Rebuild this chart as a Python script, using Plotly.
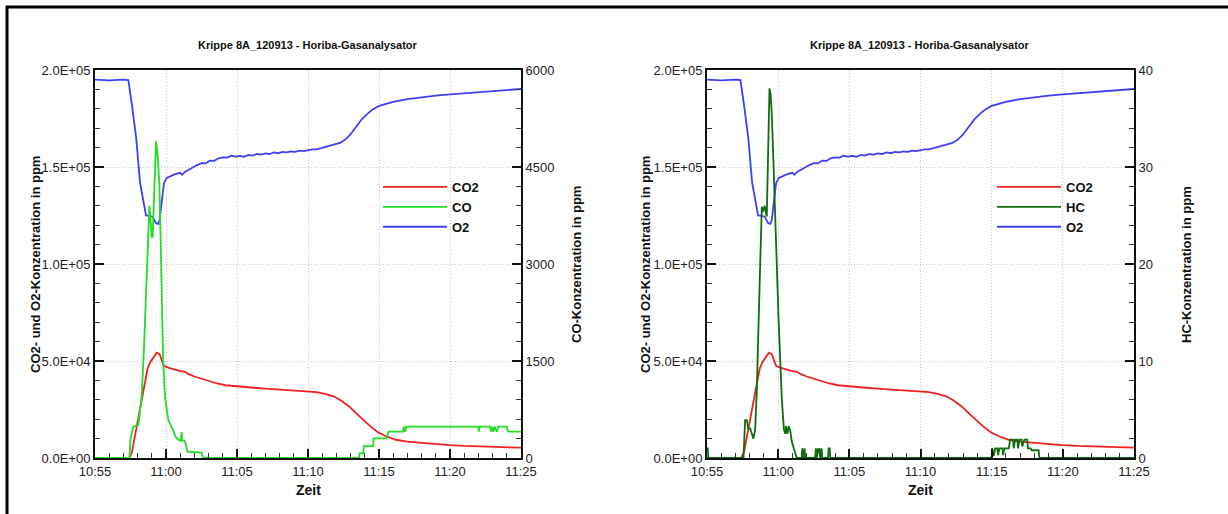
import pandas as pd
import plotly.graph_objects as go

W, H = 1228, 514
BASE = pd.Timestamp("2013-09-12 10:55:00")

# ---------------- data (minutes after 10:55, ppm) ----------------
co2_min = [0, 2.4, 2.6, 2.9, 3.25, 3.5, 3.7, 3.9, 4.1, 4.35, 4.55, 4.7, 4.85, 5.2, 5.6, 6.0, 6.3,
           6.6, 7.0, 7.4, 8.0, 8.6, 9.2, 9.8, 10.5, 11.2, 12.0, 12.8, 13.6, 14.4, 15.0, 15.6,
           16.2, 16.8, 17.3, 17.9, 18.4, 18.9, 19.4, 19.9, 20.5, 21.2, 22.0, 23.0, 24.0, 25.0,
           26.0, 27.0, 28.0, 29.0, 30.0]
co2_ppm = [0, 0, 3000, 15000, 28000, 38000, 46000, 49500, 51500, 54300, 53500, 50000, 47500,
           46500, 45600, 44800, 44500, 43200, 42000, 41000, 39500, 38400, 37500, 37000, 36600,
           36200, 35800, 35400, 35000, 34700, 34400, 34000, 33000, 31800, 29800, 26600, 23000,
           19600, 16300, 13400, 11200, 9400, 8400, 7800, 7100, 6600, 6200, 5900, 5700, 5500, 5300]

o2_min = [0, 1.0, 2.0, 2.35, 2.6, 2.9, 3.17, 3.4, 3.59, 3.8, 4.05, 4.15, 4.3, 4.45, 4.55, 4.7,
          4.86, 5.05, 5.3, 5.6, 5.99, 6.15, 6.35, 6.6, 6.92, 7.2, 7.5, 7.8, 8.1, 8.4, 8.7, 9.0,
          9.3, 9.6, 9.9, 10.2, 10.5, 10.8, 11.1, 11.4, 11.7, 12.0, 12.3, 12.6, 12.9, 13.2, 13.5,
          13.8, 14.1, 14.4, 14.7, 15.0, 15.3, 15.6, 15.9, 16.2, 16.5, 16.8, 17.25, 17.6, 17.96,
          18.38, 18.8, 19.2, 19.5, 20.0, 20.4, 21.0, 22.0, 23.0, 24.0, 25.0, 26.0, 27.0, 28.0,
          29.0, 30.0]
o2_ppm = [195000, 194700, 195000, 194800, 182000, 165000, 142000, 133000, 125000, 124800,
          124500, 123000, 121000, 120700, 122500, 132000, 141800, 144300, 145300, 146200,
          147000, 146000, 147600, 148700, 150200, 151000, 152000, 151900, 153300, 153200,
          154500, 155000, 154800, 155800, 155400, 155700, 155300, 156200, 155900, 156700,
          156400, 157000, 156700, 157500, 157100, 157800, 157500, 158000, 157800, 158400,
          158200, 158800, 159100, 159100, 159700, 160300, 161000, 161500, 162400, 164000,
          166500, 170600, 174700, 177500, 179400, 181500, 182500, 183600, 185000, 186000,
          186800, 187400, 188000, 188600, 189200, 189700, 190200]

co_min = [0, 2.42, 2.5, 2.7, 3.05, 3.15, 3.29, 3.45, 3.59, 3.72, 3.83, 3.92, 4.0, 4.06, 4.18,
          4.3, 4.42, 4.53, 4.62, 4.7, 4.8, 4.93, 5.05, 5.16, 5.35, 5.51, 5.6, 5.75, 5.99, 6.05,
          6.1, 6.15, 6.3, 6.41, 6.5, 7.39, 7.5, 7.63, 18.6, 18.62, 18.9, 18.92, 19.6, 19.62,
          20.54, 20.66, 21.71, 21.73, 21.85, 21.9, 22.0, 27.0, 27.03, 27.1, 27.82, 27.9, 27.97,
          28.05, 28.15, 28.29, 28.4, 28.64, 28.99, 29.1, 30.0]
co_ppm = [0, 0, 300, 484, 510, 700, 950, 1700, 2470, 3300, 3900, 3650, 3420, 3420, 4300, 4900,
          4650, 4250, 3400, 2470, 1500, 950, 750, 590, 500, 430, 360, 305, 270, 270, 400, 270,
          270, 200, 97, 82, 82, 0, 0, 72, 72, 185, 185, 304, 304, 407, 407, 484, 407, 484, 484,
          484, 407, 484, 484, 407, 484, 407, 484, 407, 484, 484, 484, 407, 407]

hc_min = [0, 0.05, 0.1, 2.56, 2.68, 2.8, 2.91, 3.03, 3.15, 3.26, 3.38, 3.5, 3.61, 3.75, 3.85,
          3.95, 4.05, 4.2, 4.3, 4.39, 4.47, 4.56, 4.68, 4.79, 5.02, 5.26, 5.4, 5.49, 5.55, 5.65,
          5.75, 5.85, 5.96, 6.2, 6.3, 6.65, 6.7, 6.78, 6.85, 6.9, 7.6, 7.65, 7.72, 7.8, 7.85,
          7.9, 7.95, 8.05, 8.1, 8.5, 8.55, 8.62, 8.66, 20.0, 20.03, 20.15, 20.25, 20.4, 20.45,
          20.55, 20.75, 20.8, 20.9, 21.2, 21.3, 21.5, 21.55, 21.65, 21.8, 21.85, 21.95, 22.1,
          22.15, 22.3, 22.5, 22.55, 22.75, 22.8, 23.3, 23.35, 30.0]
hc_ppm = [1.0, 1.0, 0, 0, 3.9, 3.9, 3.0, 3.06, 2.5, 2.0, 2.9, 7.0, 13.2, 20.0, 25.9, 25.4, 26.0,
          24.9, 32.0, 38.1, 37.5, 35.2, 30.0, 24.9, 14.6, 6.0, 3.0, 2.5, 3.3, 2.5, 3.3, 2.8, 1.7,
          0.5, 0, 0, 1.0, 0, 1.0, 0, 0, 1.0, 0, 1.0, 0.5, 1.0, 0, 1.0, 0, 0, 1.0, 1.0, 0, 0, 1.0,
          0.2, 1.0, 1.0, 0.3, 1.0, 1.0, 0.3, 1.0, 1.0, 1.9, 1.9, 1.0, 1.9, 1.9, 1.0, 1.9, 1.9,
          1.2, 1.9, 1.9, 1.0, 1.0, 0.8, 0.8, 0, 0]

left_tickvals = [0, 50000, 100000, 150000, 200000]
left_ticktext = ["0.0E+00", "5.0E+04", "1.0E+05", "1.5E+05", "2.0E+05"]
co_tickvals = [0, 1500, 3000, 4500, 6000]
hc_tickvals = [0, 10, 20, 30, 40]

title_text = "Krippe 8A_120913 - Horiba-Gasanalysator"
left_ytitle = "CO2- und O2-Konzentration in ppm"
co_ytitle = "CO-Konzentration in ppm"
hc_ytitle = "HC-Konzentration in ppm"
x_title = "Zeit"

C_CO2 = "#ee2020"
C_CO = "#22dd22"
C_O2 = "#4040f5"
C_HC = "#0e6e0e"


def to_time(mins):
    return [BASE + pd.Timedelta(minutes=m) for m in mins]


def px(x):
    return x / W


def py(y):
    return 1 - y / H


FONT = "Liberation Sans, Arial, sans-serif"
LW = 1.8

fig = go.Figure()
# left panel
fig.add_trace(go.Scatter(x=to_time(co2_min), y=co2_ppm, name="CO2", mode="lines",
                         line=dict(color=C_CO2, width=LW), xaxis="x", yaxis="y", legend="legend"))
fig.add_trace(go.Scatter(x=to_time(co_min), y=co_ppm, name="CO", mode="lines",
                         line=dict(color=C_CO, width=LW), xaxis="x", yaxis="y2", legend="legend"))
fig.add_trace(go.Scatter(x=to_time(o2_min), y=o2_ppm, name="O2", mode="lines",
                         line=dict(color=C_O2, width=LW), xaxis="x", yaxis="y", legend="legend"))
# right panel
fig.add_trace(go.Scatter(x=to_time(co2_min), y=co2_ppm, name="CO2", mode="lines",
                         line=dict(color=C_CO2, width=LW), xaxis="x2", yaxis="y3", legend="legend2"))
fig.add_trace(go.Scatter(x=to_time(hc_min), y=hc_ppm, name="HC", mode="lines",
                         line=dict(color=C_HC, width=LW), xaxis="x2", yaxis="y4", legend="legend2"))
fig.add_trace(go.Scatter(x=to_time(o2_min), y=o2_ppm, name="O2", mode="lines",
                         line=dict(color=C_O2, width=LW), xaxis="x2", yaxis="y3", legend="legend2"))

tickfont = dict(family=FONT, size=13, color="#222")

xdom_l = [px(95), px(521)]
xdom_r = [px(707), px(1134)]
ydom = [py(458), py(70)]
xrange_ = [BASE, BASE + pd.Timedelta(minutes=30)]
GRID = dict(showgrid=True, gridcolor="#c4c4c4", griddash="1px,2px", gridwidth=1)


def xaxis(anchor, dom):
    return dict(domain=dom, anchor=anchor, range=xrange_, type="date",
                tick0=BASE, dtick=300000, tickformat="%H:%M",
                ticks="inside", ticklen=9, tickwidth=2, tickcolor="#111",
                minor=dict(dtick=60000, ticks="inside", ticklen=5, tickwidth=1, tickcolor="#333",
                           showgrid=False),
                showline=True, linewidth=2, linecolor="#111", mirror=True,
                tickfont=tickfont, automargin=False, zeroline=False, fixedrange=True, **GRID)


def yleft(anchor):
    return dict(domain=ydom, anchor=anchor, range=[0, 200000],
                tickvals=left_tickvals, ticktext=left_ticktext,
                ticks="inside", ticklen=9, tickwidth=2, tickcolor="#111",
                minor=dict(dtick=10000, ticks="inside", ticklen=5, tickwidth=1, tickcolor="#333",
                           showgrid=False),
                showline=True, linewidth=2, linecolor="#111",
                tickfont=tickfont, automargin=False, zeroline=False, fixedrange=True, **GRID)


def yright(anchor, overlay, rng, vals, mdt):
    return dict(anchor=anchor, overlaying=overlay, side="right", range=rng,
                tickvals=vals, ticktext=[str(v) for v in vals],
                ticks="inside", ticklen=9, tickwidth=2, tickcolor="#111",
                minor=dict(dtick=mdt, ticks="inside", ticklen=5, tickwidth=1, tickcolor="#333",
                           showgrid=False),
                showline=True, linewidth=2, linecolor="#111", showgrid=False,
                tickfont=tickfont, automargin=False, zeroline=False, fixedrange=True)


legfont = dict(family=FONT, size=13, color="#111", weight="bold")

annotations = []
for cx, ly, ry in [(308, left_ytitle, co_ytitle), (920, left_ytitle, hc_ytitle)]:
    annotations.append(dict(text="<b>%s</b>" % title_text, x=px(cx), y=py(45), xref="paper",
                            yref="paper", showarrow=False, xanchor="center", yanchor="middle",
                            font=dict(family=FONT, size=11, color="#111")))
    annotations.append(dict(text="<b>%s</b>" % x_title, x=px(cx), y=py(490), xref="paper",
                            yref="paper", showarrow=False, xanchor="center", yanchor="middle",
                            font=dict(family=FONT, size=14, color="#111")))
for xx, t in [(35, left_ytitle), (576, co_ytitle), (645, left_ytitle), (1186, hc_ytitle)]:
    annotations.append(dict(text="<b>%s</b>" % t, x=px(xx), y=py(265), xref="paper",
                            yref="paper", showarrow=False, xanchor="center", yanchor="middle",
                            textangle=-90, font=dict(family=FONT, size=13, color="#111")))

fig.update_layout(
    width=W, height=H, margin=dict(l=0, r=0, t=0, b=0),
    paper_bgcolor="white", plot_bgcolor="white",
    xaxis=xaxis("y", xdom_l),
    yaxis=yleft("x"),
    yaxis2=yright("x", "y", [0, 6000], co_tickvals, 300),
    xaxis2=xaxis("y3", xdom_r),
    yaxis3=yleft("x2"),
    yaxis4=yright("x2", "y3", [0, 40], hc_tickvals, 2),
    legend=dict(x=px(378), y=py(172), xanchor="left", yanchor="top", itemwidth=64,
                font=legfont, bgcolor="rgba(255,255,255,0)", borderwidth=0, traceorder="normal"),
    legend2=dict(x=px(992), y=py(172), xanchor="left", yanchor="top", itemwidth=64,
                 font=legfont, bgcolor="rgba(255,255,255,0)", borderwidth=0, traceorder="normal"),
    annotations=annotations,
    shapes=[dict(type="rect", xref="paper", yref="paper", x0=px(7), x1=1.05, y0=-0.05, y1=py(7),
                 line=dict(color="black", width=3), fillcolor="rgba(0,0,0,0)", layer="above")],
    showlegend=True,
)

fig.write_html("out.html")
